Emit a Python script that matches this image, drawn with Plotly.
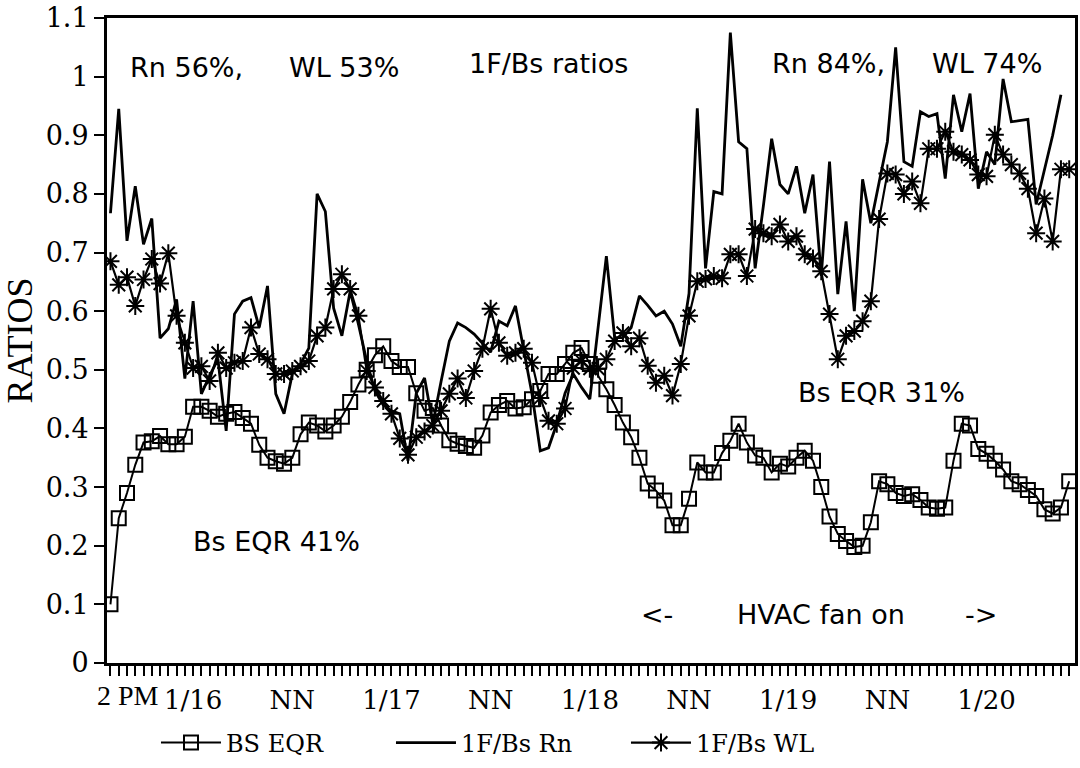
import plotly.graph_objects as go

# Hourly readings, hour 0 = 2 PM on 1/15
bs_eqr = [
    0.10, 0.247, 0.29, 0.338, 0.376, 0.378, 0.387, 0.373, 0.373, 0.386,
    0.437, 0.437, 0.43, 0.42, 0.425, 0.428, 0.418, 0.408, 0.372, 0.35,
    0.344, 0.34, 0.35, 0.39, 0.41, 0.405, 0.395, 0.405, 0.42, 0.445,
    0.475, 0.50, 0.525, 0.54, 0.515, 0.505, 0.505, 0.46, 0.43, 0.435,
    0.405, 0.38, 0.374, 0.37, 0.367, 0.388, 0.427, 0.44, 0.447, 0.434,
    0.436, 0.45, 0.464, 0.493, 0.493, 0.51, 0.529, 0.537, 0.51, 0.49,
    0.467, 0.44, 0.41, 0.385, 0.35, 0.306, 0.294, 0.277, 0.235, 0.235,
    0.28, 0.342, 0.325, 0.325, 0.358, 0.379, 0.408, 0.376, 0.354, 0.35,
    0.325, 0.34, 0.335, 0.35, 0.362, 0.345, 0.30, 0.25, 0.22, 0.208,
    0.198, 0.20, 0.24, 0.31, 0.305, 0.29, 0.285, 0.288, 0.278, 0.265,
    0.263, 0.265, 0.345, 0.408, 0.405, 0.365, 0.357, 0.345, 0.33, 0.31,
    0.305, 0.295, 0.285, 0.262, 0.255, 0.265, 0.31,
]

rn_ratio = [
    0.767, 0.945, 0.72, 0.813, 0.714, 0.758, 0.554, 0.57, 0.62, 0.485,
    0.617, 0.459, 0.49, 0.518, 0.396, 0.595, 0.617, 0.623, 0.572, 0.643,
    0.459, 0.425, 0.493, 0.51, 0.537, 0.80, 0.77, 0.605, 0.558, 0.634,
    0.578, 0.515, 0.464, 0.44, 0.43, 0.425, 0.345, 0.46, 0.486, 0.408,
    0.48, 0.549, 0.58, 0.572, 0.561, 0.546, 0.53, 0.583, 0.575, 0.609,
    0.537, 0.459, 0.362, 0.367, 0.408, 0.46, 0.493, 0.47, 0.45, 0.57,
    0.694, 0.555, 0.555, 0.572, 0.626, 0.61, 0.592, 0.60, 0.578, 0.54,
    0.63, 0.946, 0.673, 0.804, 0.80, 1.075, 0.889, 0.877, 0.673, 0.78,
    0.894, 0.816, 0.80, 0.847, 0.767, 0.833, 0.66, 0.855, 0.629, 0.753,
    0.60, 0.825, 0.75, 0.82, 0.889, 1.05, 0.855, 0.847, 0.94, 0.932,
    0.937, 0.826, 0.969, 0.906, 0.971, 0.809, 0.872, 0.85, 0.996, 0.923,
    0.925, 0.927, 0.782, 0.84, 0.90, 0.969,
]

wl_ratio = [
    0.685, 0.645, 0.658, 0.609, 0.654, 0.689, 0.647, 0.699, 0.592, 0.546,
    0.503, 0.506, 0.481, 0.529, 0.503, 0.512, 0.515, 0.572, 0.527, 0.518,
    0.493, 0.493, 0.498, 0.506, 0.515, 0.558, 0.572, 0.638, 0.663, 0.638,
    0.592, 0.498, 0.47, 0.447, 0.425, 0.383, 0.355, 0.385, 0.395, 0.405,
    0.43, 0.459, 0.485, 0.452, 0.498, 0.536, 0.604, 0.546, 0.524, 0.529,
    0.536, 0.512, 0.452, 0.413, 0.408, 0.434, 0.503, 0.515, 0.502, 0.502,
    0.518, 0.549, 0.563, 0.54, 0.554, 0.507, 0.478, 0.49, 0.456, 0.51,
    0.592, 0.651, 0.655, 0.66, 0.656, 0.697, 0.697, 0.66, 0.74, 0.733,
    0.728, 0.748, 0.719, 0.728, 0.697, 0.69, 0.668, 0.595, 0.518, 0.558,
    0.566, 0.583, 0.617, 0.757, 0.835, 0.833, 0.80, 0.821, 0.784, 0.877,
    0.877, 0.906, 0.872, 0.867, 0.858, 0.833, 0.83, 0.901, 0.867, 0.85,
    0.835, 0.809, 0.733, 0.792, 0.719, 0.842, 0.842,
]

hours_bs = list(range(len(bs_eqr)))
hours_rn = list(range(len(rn_ratio)))
hours_wl = list(range(len(wl_ratio)))

# Hourly tick marks, labelled at midnights and noons
tick_hours = list(range(0, 117))
label_hours = [10, 22, 34, 46, 58, 70, 82, 94, 106]
label_text = ["1/16", "NN", "1/17", "NN", "1/18", "NN", "1/19", "NN", "1/20"]
tick_text = [label_text[label_hours.index(h)] if h in label_hours else ""
             for h in tick_hours]

y_ticks = [0, 0.1, 0.2, 0.3, 0.4, 0.5, 0.6, 0.7, 0.8, 0.9, 1.0, 1.1]
y_text = ["0", "0.1", "0.2", "0.3", "0.4", "0.5", "0.6", "0.7", "0.8",
          "0.9", "1", "1.1"]

SERIF = "DejaVu Serif"
SANS = "DejaVu Sans"

fig = go.Figure()
fig.add_trace(go.Scatter(
    x=hours_bs, y=bs_eqr, name="BS EQR", mode="lines+markers",
    line=dict(color="black", width=2),
    marker=dict(symbol="square-open", size=14, color="black",
                line=dict(width=2, color="black")),
))
fig.add_trace(go.Scatter(
    x=hours_rn, y=rn_ratio, name="1F/Bs Rn", mode="lines",
    line=dict(color="black", width=2.8),
))
fig.add_trace(go.Scatter(
    x=hours_wl, y=wl_ratio, name="1F/Bs WL", mode="lines+markers",
    line=dict(color="black", width=2.2),
    marker=dict(symbol="asterisk-open", size=15, color="black",
                line=dict(width=2, color="black")),
))

notes = [
    (2.1, 1.015, "Rn 56%,"),
    (21.4, 1.015, "WL 53%"),
    (43.1, 1.023, "1F/Bs ratios"),
    (79.8, 1.023, "Rn 84%,"),
    (99.2, 1.023, "WL 74%"),
    (9.8, 0.207, "Bs EQR 41%"),
    (82.9, 0.462, "Bs EQR 31%"),
    (63.9, 0.083, "<-"),
    (75.6, 0.083, "HVAC fan on"),
    (103.1, 0.083, "->"),
]
for nx, ny, txt in notes:
    fig.add_annotation(x=nx, y=ny, text=txt, showarrow=False,
                       xanchor="left", yanchor="middle",
                       font=dict(family=SANS, size=27, color="black"))

# start-of-record label under the left end of the time axis
fig.add_annotation(xref="paper", yref="paper", x=-0.012, y=-0.05,
                   text="2 PM", showarrow=False,
                   xanchor="left", yanchor="middle",
                   font=dict(family="Liberation Serif", size=28,
                             color="black"))

fig.update_layout(
    width=1080, height=768, autosize=False,
    margin=dict(l=107, r=2, t=16, b=105),
    paper_bgcolor="white", plot_bgcolor="white",
    showlegend=True,
    legend=dict(orientation="h", x=0.0506, xanchor="left",
                y=-0.124, yanchor="middle",
                entrywidth=160, entrywidthmode="pixels", itemwidth=60,
                font=dict(family=SERIF, size=24, color="black"),
                bgcolor="rgba(0,0,0,0)"),
    xaxis=dict(range=[-0.42, 116.7], tickmode="array", tickvals=tick_hours,
               ticktext=tick_text, ticks="outside", ticklen=10, tickwidth=2,
               tickcolor="black", showline=True, linewidth=3,
               linecolor="black", mirror=True, showgrid=False,
               zeroline=False, ticklabelstandoff=2,
               tickfont=dict(family=SERIF, size=26, color="black")),
    yaxis=dict(range=[0, 1.1], tickmode="array", tickvals=y_ticks,
               ticktext=y_text, ticks="outside", ticklen=10, tickwidth=2,
               tickcolor="black", showline=True, linewidth=3,
               linecolor="black", mirror=True, showgrid=False,
               zeroline=False,
               tickfont=dict(family=SERIF, size=27, color="black"),
               title=dict(text="RATIOS", standoff=4,
                          font=dict(family="Liberation Serif", size=36,
                                    color="black"))),
)

fig.write_html("out.html")
